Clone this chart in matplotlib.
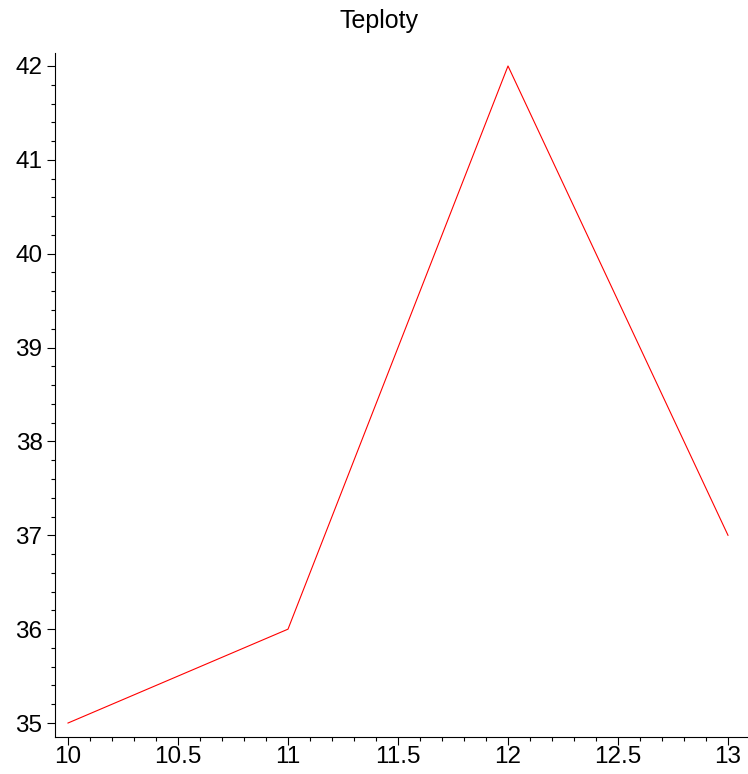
import matplotlib
matplotlib.use("Agg")
import matplotlib.pyplot as plt
from matplotlib.ticker import MultipleLocator

x_values = [10, 11, 12, 13]
temperatures = [35, 36, 42, 37]
x_tick_labels = ["10", "10.5", "11", "11.5", "12", "12.5", "13"]
title = "Teploty"

plt.rcParams['font.family'] = ['Liberation Sans', 'DejaVu Sans']

fig = plt.figure(figsize=(7.48, 7.74), dpi=100)
ax = fig.add_axes([55/748, 37/774, (748-55)/748, (721-37)/774])
ax.plot(x_values, temperatures, color='red', linewidth=0.8)
ax.set_xlim(10 - 13/220, 13 + 20/220)
ax.set_ylim(35 - 14/94, 42 + 13/94)
ax.spines['top'].set_visible(False)
ax.spines['right'].set_visible(False)
ax.xaxis.set_minor_locator(MultipleLocator(0.1))
ax.yaxis.set_major_locator(MultipleLocator(1))
ax.yaxis.set_minor_locator(MultipleLocator(0.2))
ax.set_xticks([float(t) for t in x_tick_labels])
ax.set_xticklabels(x_tick_labels)
ax.tick_params(which='major', length=5.5, width=0.8, labelsize=17.5, pad=1)
ax.tick_params(which='minor', length=2.7, width=0.8)
ax.tick_params(axis='y', which='major', pad=3.5)
fig.text(379/748, 1 - 28/774, title, fontsize=18, ha='center', va='baseline')
fig.savefig("out.png", dpi=100)
